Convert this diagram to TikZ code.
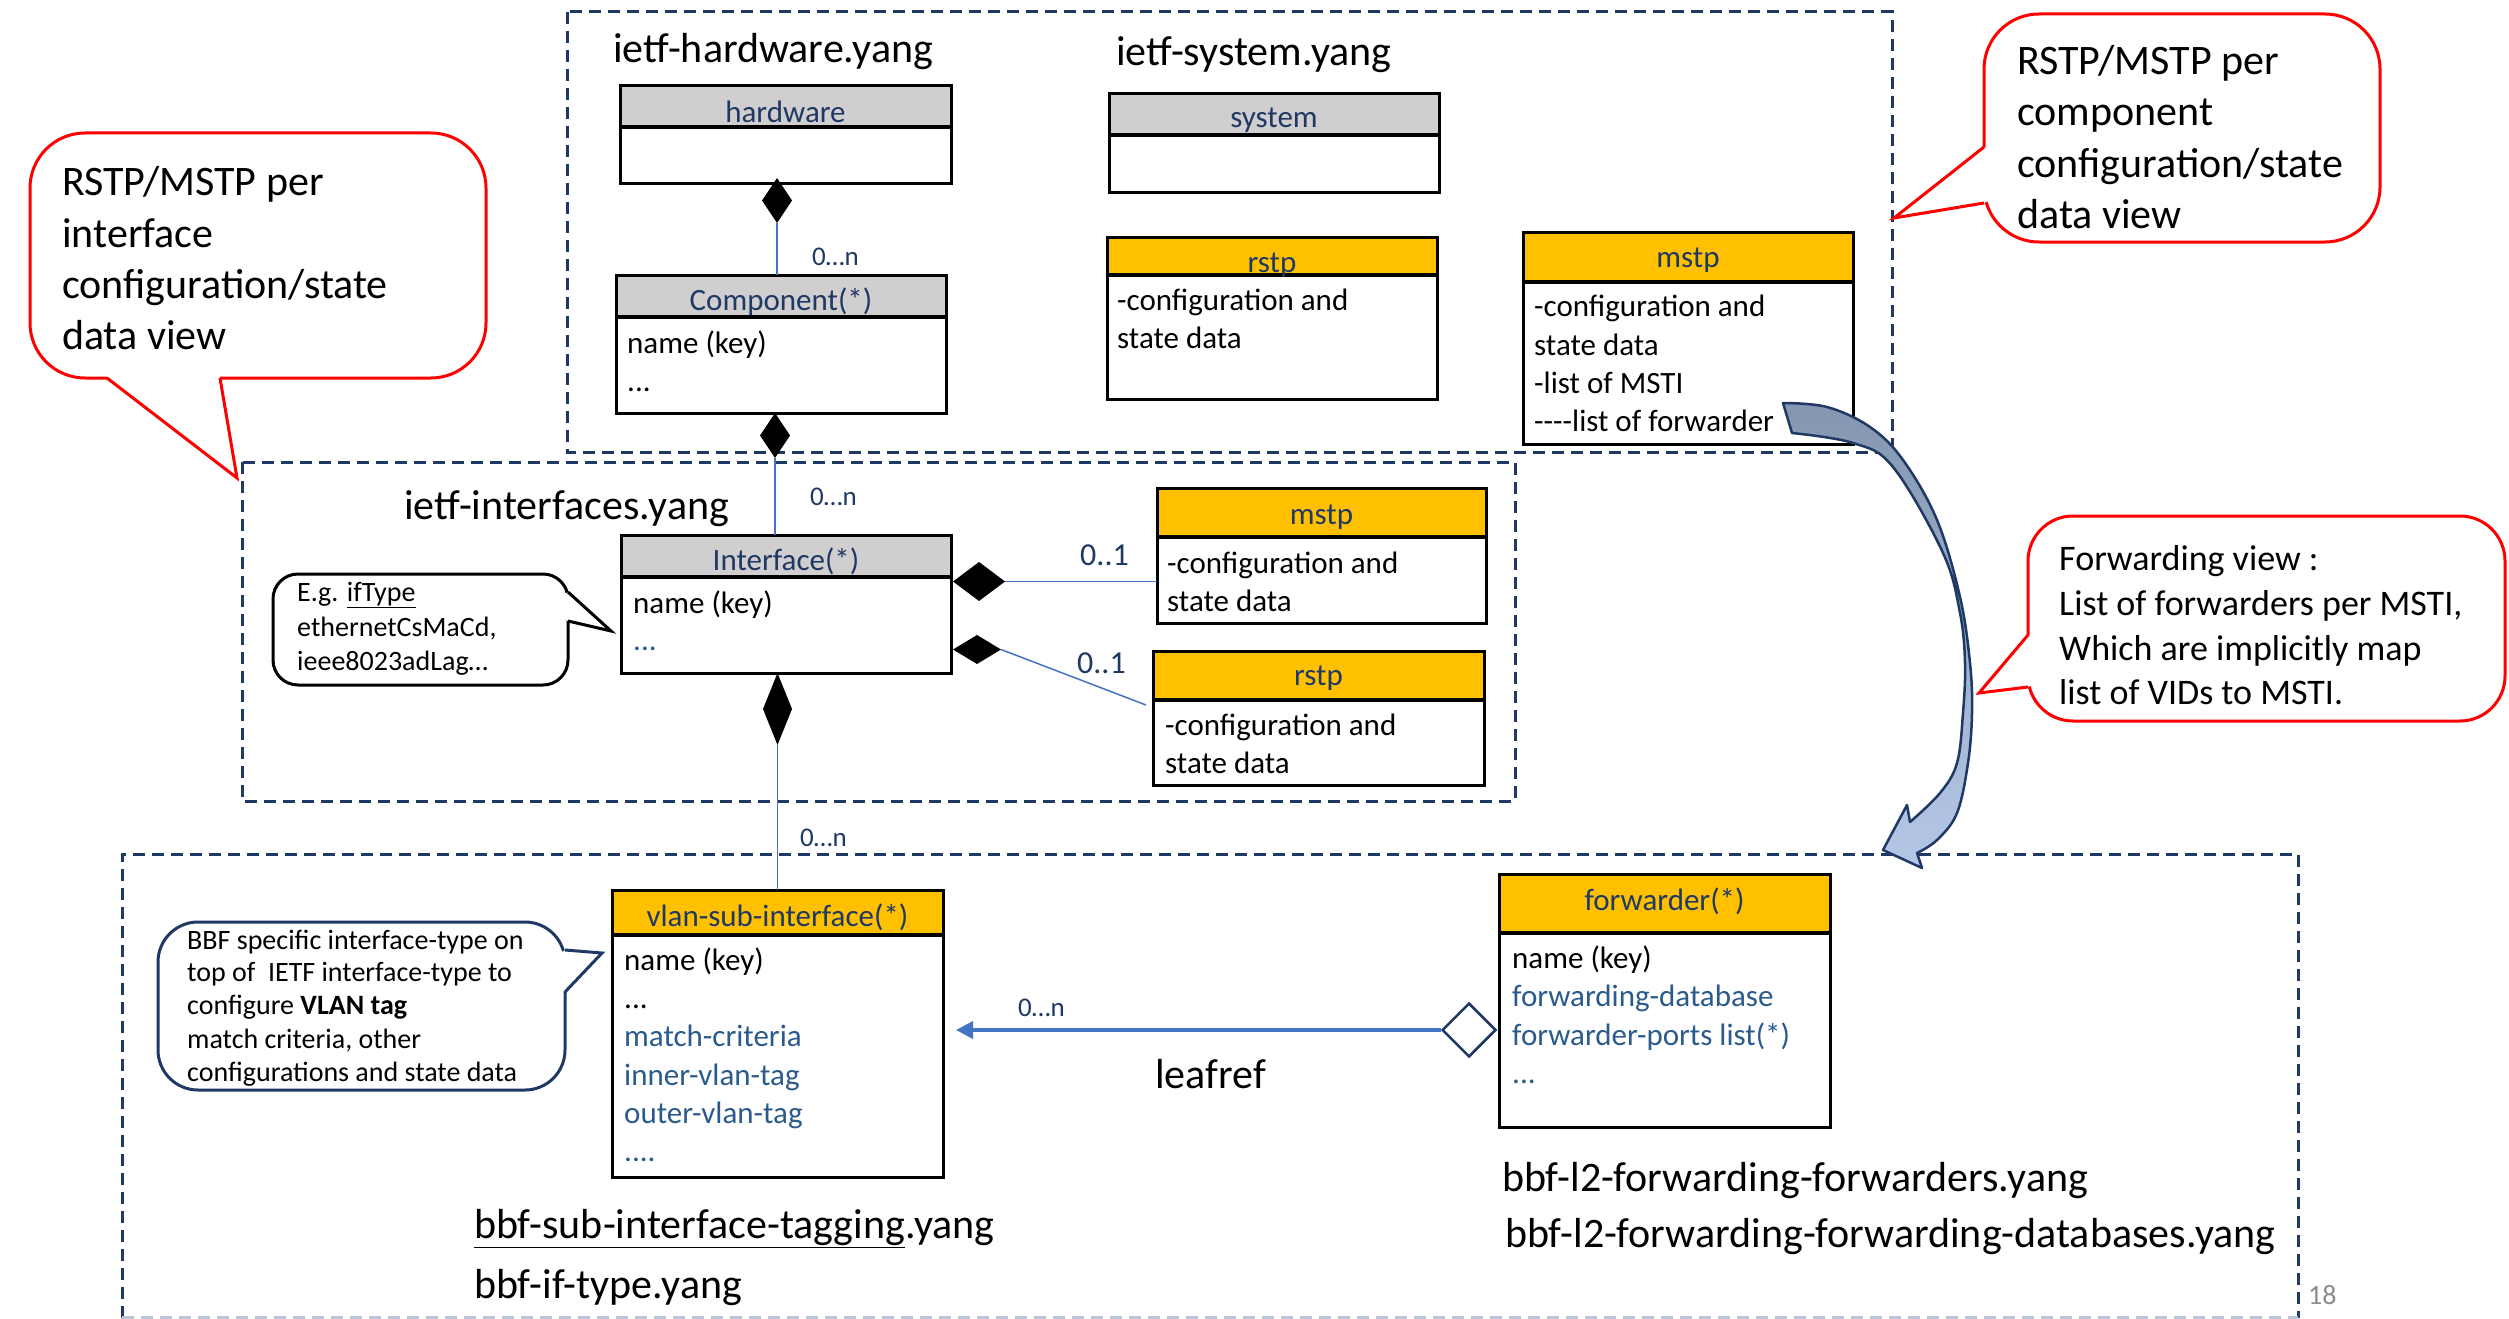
\documentclass[tikz,border=0pt]{standalone}
\usepackage{fontspec}
\setmainfont{Carlito}
\usetikzlibrary{shapes.geometric,arrows.meta}
\definecolor{navy}{HTML}{1F3864}
\definecolor{hdrgray}{HTML}{D0CECE}
\definecolor{hdrorange}{HTML}{FFC000}
\definecolor{linkblue}{HTML}{4472C4}
\definecolor{itemblue}{HTML}{2B5B8C}
\definecolor{callred}{HTML}{FF0000}
\definecolor{arrdark}{HTML}{8497B0}
\definecolor{arrmid}{HTML}{9FB2D0}
\definecolor{arrlight}{HTML}{B4C7E7}
\definecolor{edgelight}{HTML}{BCC5D8}
\definecolor{pagegray}{HTML}{8C8C8C}
\newcommand\myfs[1]{\fontsize{#1}{#1}\selectfont}
\newcommand\umlclass[9]{%
  \node[classhead, fill=#7, minimum width={#5-#2}, minimum height={#4-#3}] (#1-h) at (#2,#3) {};
  \node[classbody, minimum width={#5-#2}, minimum height={#6-#4}] (#1-b) at (#2,#4) {};
  \draw[line width=4.5pt] (#1-h.south west) -- (#1-h.south east);
  \node[htxt] (#1-t) at ([yshift={-(#9)*1pt}]#1-h.center) {#8};
}
\begin{document}
\begin{tikzpicture}[x=1pt,y=-1pt,
  dashbox/.style={draw=navy, line width=3pt, dash pattern=on 12pt off 7pt},
  classhead/.style={draw=black, line width=3pt, inner sep=0pt, outer sep=0pt, anchor=north west},
  htxt/.style={inner sep=0pt, text=navy, font=\myfs{31}},
  classbody/.style={draw=black, line width=3pt, fill=white, inner sep=0pt, outer sep=0pt, anchor=north west},
  btxt/.style={anchor=mid west, inner sep=0pt, yshift=-6pt, font=\myfs{31}},
  bblue/.style={btxt, text=itemblue},
  title/.style={anchor=mid west, inner sep=0pt, yshift=-7pt, font=\myfs{42}},
  conn/.style={draw=linkblue, line width=1.5pt},
  cdiam/.style={diamond, fill=black, inner sep=0pt, outer sep=0pt},
  mult/.style={anchor=mid west, inner sep=0pt, yshift=-6pt, text=navy, font=\myfs{27}},
  multb/.style={anchor=mid west, inner sep=0pt, yshift=-8pt, text=navy, font=\myfs{32}},
  redline/.style={draw=callred, line width=3pt},
  ctxt/.style={anchor=base west, inner sep=0pt, font=\myfs{42}},
  ftxt/.style={anchor=base west, inner sep=0pt, font=\myfs{36}},
  stxt/.style={anchor=mid west, inner sep=0pt, yshift=-5pt, font=\myfs{28}}
]
\useasboundingbox (0,0) rectangle (2509,1319);
\fill[white] (0,0) rectangle (2509,1319);

% ---------- dashed package frames ----------
\draw[dashbox] (567,12) rectangle (1892,452);
\draw[dashbox] (242,462) rectangle (1515,801);
\draw[dashbox] (122,1318) -- (122,854) -- (2298,854) -- (2298,1318);
\draw[dashbox, draw=edgelight] (122,1317) -- (2298,1317);

% ---------- titles ----------
\node[title] (t-hw) at (613,53) {ietf-hardware.yang};
\node[title] (t-sys) at (1116,56) {ietf-system.yang};
\node[title] (t-if) at (404,510) {ietf-interfaces.yang};
\node[title] (t-sub) at (474,1229) {\underline{bbf-sub-interface-tagging}.yang};
\node[title] (t-ift) at (474,1289) {bbf-if-type.yang};
\node[title] (t-fw1) at (1502,1182) {bbf-l2-forwarding-forwarders.yang};
\node[title] (t-fw2) at (1505,1238) {bbf-l2-forwarding-forwarding-databases.yang};

% ---------- classes ----------
\umlclass{hw}{620}{86}{127}{951}{183}{hdrgray}{hardware}{5}
\umlclass{sys}{1109}{94}{135}{1439}{192}{hdrgray}{system}{6}
\umlclass{comp}{616}{275}{317}{946}{413}{hdrgray}{Component(*)}{6}
\umlclass{rstpt}{1107}{237}{275}{1437}{399}{hdrorange}{rstp}{9}
\umlclass{mstpt}{1523}{232}{282}{1853}{444}{hdrorange}{mstp}{3}
\umlclass{intf}{621}{535}{577}{951}{673}{hdrgray}{Interface(*)}{5}
\umlclass{mstpm}{1157}{488}{537}{1486}{623}{hdrorange}{mstp}{5}
\umlclass{rstpm}{1153}{651}{700}{1484}{785}{hdrorange}{rstp}{3}
\umlclass{vlan}{612}{890}{935}{943}{1177}{hdrorange}{vlan-sub-interface(*)}{5}
\umlclass{fwd}{1499}{874}{933}{1830}{1127}{hdrorange}{forwarder(*)}{-2}

% class contents
\node[btxt] (comp-1) at (627,345) {name (key)};
\node[btxt] (comp-2) at (627,383) {...};
\node[btxt] (rstpt-1) at (1117,302) {-configuration and};
\node[btxt] (rstpt-2) at (1117,340) {state data};
\node[btxt] (mstpt-1) at (1534,308) {-configuration and};
\node[btxt] (mstpt-2) at (1534,347) {state data};
\node[btxt] (mstpt-3) at (1534,385) {-list of MSTI};
\node[btxt] (mstpt-4) at (1534,423) {-{}-{}-{}-list of forwarder};
\node[btxt] (intf-1) at (633,605) {name (key)};
\node[bblue] (intf-2) at (633,642) {...};
\node[btxt] (mstpm-1) at (1167,565) {-configuration and};
\node[btxt] (mstpm-2) at (1167,603) {state data};
\node[btxt] (rstpm-1) at (1165,727) {-configuration and};
\node[btxt] (rstpm-2) at (1165,765) {state data};
\node[btxt] (vlan-1) at (624,962) {name (key)};
\node[btxt] (vlan-2) at (624,1000) {...};
\node[bblue] (vlan-3) at (624,1038) {match-criteria};
\node[bblue] (vlan-4) at (624,1077) {inner-vlan-tag};
\node[bblue] (vlan-5) at (624,1115) {outer-vlan-tag};
\node[bblue] (vlan-6) at (624,1153) {....};
\node[btxt] (fwd-1) at (1512,960) {name (key)};
\node[bblue] (fwd-2) at (1512,998) {forwarding-database};
\node[bblue] (fwd-3) at (1512,1037) {forwarder-ports list(*)};
\node[bblue] (fwd-4) at (1512,1075) {...};

% ---------- composition connectors ----------
\node[cdiam, minimum width=30pt, minimum height=45pt] (d-hw) at (777,200.5) {};
\draw[conn] (d-hw.south) -- (d-hw.south |- comp-h.north);
\node[mult] (m-hw) at (812,257) {0…n};

\node[cdiam, minimum width=30pt, minimum height=45pt] (d-comp) at (775,435.5) {};
\draw[conn] (d-comp.south) -- (d-comp.south |- intf-h.north);
\node[mult] (m-comp) at (810,497) {0…n};

\node[cdiam, minimum width=52pt, minimum height=39pt] (d-if1) at (979,581.5) {};
\draw[conn] (d-if1.east) -- (d-if1.east -| mstpm-b.west);
\node[multb] (m-if1) at (1080,555) {0..1};

\node[cdiam, minimum width=48pt, minimum height=29pt] (d-if2) at (977,649.5) {};
\coordinate (rstp-in) at (1146,705);
\draw[conn] (d-if2.east) -- (rstp-in);
\node[multb] (m-if2) at (1077,663) {0..1};

\node[cdiam, minimum width=29pt, minimum height=72pt] (d-if3) at (777.5,709) {};
\draw[conn] (d-if3.south) -- (d-if3.south |- vlan-h.north);
\node[mult] (m-if3) at (800,838) {0…n};

% ---------- leafref ----------
\node[diamond, draw=navy, fill=white, line width=2.5pt, inner sep=0pt, minimum width=54pt, minimum height=54pt] (d-fwd) at (1469,1030) {};
\coordinate (leaf-tip) at (956,1030);
\draw[draw=linkblue, line width=3.5pt, -{Triangle[length=17pt,width=17pt]}] (d-fwd.west) -- (leaf-tip);
\node[mult] (m-leaf) at (1018,1008) {0…n};
\node[title] (leafref) at (1155,1079) {leafref};

% ---------- black callout E.g. ----------
\draw[line width=3pt, fill=white, rounded corners=25pt] (273,574) rectangle (568,685);
\fill[white] (565,594) -- (565,619) -- (568,621) -- (611,631) -- (568,592) -- cycle;
\draw[line width=3pt, line join=miter] (568,592) -- (611,631) -- (568,621);
\node[stxt, yshift=-1pt] (eg-1) at (297,593) {E.g. \underline{ifType}};
\node[stxt, yshift=-1pt] (eg-2) at (297,628) {ethernetCsMaCd,};
\node[stxt, yshift=-1pt] (eg-3) at (297,662) {ieee8023adLag…};

% ---------- navy callout BBF ----------
\draw[draw=navy, line width=3pt, fill=white, rounded corners=40pt] (158,922) rectangle (565,1090);
\fill[white] (562,952) -- (562,990) -- (565,992) -- (602,953) -- (565,950) -- cycle;
\draw[draw=navy, line width=3pt, line join=miter] (565,950) -- (602,953) -- (565,992);
\node[stxt] (bbf-1) at (187,942) {BBF specific interface-type on};
\node[stxt] (bbf-2) at (187,974) {top of \ IETF interface-type to};
\node[stxt] (bbf-3) at (187,1007) {configure \textbf{VLAN tag}};
\node[stxt] (bbf-4) at (187,1041) {match criteria, other};
\node[stxt] (bbf-5) at (187,1074) {configurations and state data};

% ---------- red callouts ----------
\draw[redline, fill=white, rounded corners=55pt] (30,133) rectangle (486,378);
\fill[white] (109,374) -- (218,374) -- (220,378) -- (237,478) -- (107,378) -- cycle;
\draw[redline, line join=miter] (107,378) -- (237,478) -- (220,378);
\node[ctxt] (lc-1) at (62,196) {RSTP/MSTP per};
\node[ctxt] (lc-2) at (62,247) {interface};
\node[ctxt] (lc-3) at (62,298) {configuration/state};
\node[ctxt] (lc-4) at (62,349) {data view};

\draw[redline, fill=white, rounded corners=55pt] (1984,14) rectangle (2380,242);
\fill[white] (1988,149) -- (1988,201) -- (1984,203) -- (1894,218) -- (1984,147) -- cycle;
\draw[redline, line join=miter] (1984,147) -- (1894,218) -- (1984,203);
\node[ctxt] (rc-1) at (2017,75) {RSTP/MSTP per};
\node[ctxt] (rc-2) at (2017,126) {component};
\node[ctxt] (rc-3) at (2017,177) {configuration/state};
\node[ctxt] (rc-4) at (2017,228) {data view};

\draw[redline, fill=white, rounded corners=45pt] (2028,516) rectangle (2505,721);
\fill[white] (2032,637) -- (2032,685) -- (2028,687) -- (1979,693) -- (2028,635) -- cycle;
\draw[redline, line join=miter] (2028,635) -- (1979,693) -- (2028,687);
\node[ftxt] (fc-1) at (2059,570) {Forwarding view :};
\node[ftxt] (fc-2) at (2059,615) {List of forwarders per MSTI,};
\node[ftxt] (fc-3) at (2059,660) {Which are implicitly map};
\node[ftxt] (fc-4) at (2059,704) {list of VIDs to MSTI.};

% ---------- curved block arrow ----------
\path[draw=navy, line width=2.5pt, line join=round, top color=arrdark, middle color=arrmid, bottom color=arrlight]
  plot[smooth, tension=0.6] coordinates {(1783,403) (1827,407) (1870,427) (1903,460) (1937,520) (1960,597) (1970,663) (1972,713) (1968,763) (1957,813) (1937,840) (1917,853)}
  -- (1922,868) -- (1883,850) -- (1907,805) -- (1910,822)
  -- plot[smooth, tension=0.6] coordinates {(1910,822) (1940,793) (1957,763) (1963,713) (1965,663) (1960,613) (1943,553) (1893,467) (1853,443) (1792,433)}
  -- cycle;

% page number
\node[anchor=mid west, inner sep=0pt, yshift=-5pt, text=pagegray, font=\myfs{28}] (pgno) at (2308,1297) {18};
\end{tikzpicture}
\end{document}
